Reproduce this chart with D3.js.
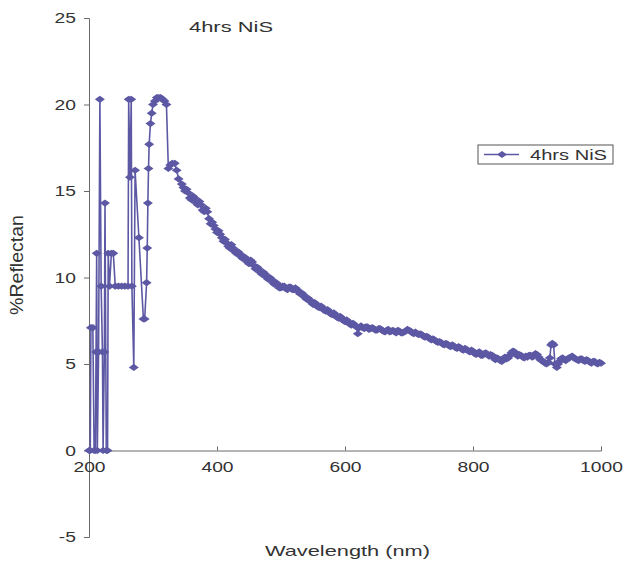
<!DOCTYPE html>
<html>
<head>
<meta charset="utf-8">
<script src="https://cdn.jsdelivr.net/npm/d3@7"></script>
<style>
  html, body { margin: 0; padding: 0; background: #ffffff; }
  svg { display: block; }
  text { font-family: "Liberation Sans", Arial, sans-serif; fill: #333333; }
</style>
</head>
<body>
<svg id="chart" width="626" height="562"></svg>
<script>
// Diffuse reflectance spectrum of the NiS film after 4 hours
const seriesName = "4hrs NiS";
const chartTitle = "4hrs NiS";
const xTitle = "Wavelength (nm)";
const yTitle = "%Reflectan";

const wavelength = [
  200, 202, 203, 206, 208, 210, 211, 212, 213, 215, 217, 219, 221, 222, 224, 225, 227, 229,
  230, 232, 235, 238, 241, 246, 251, 256, 261, 262, 264, 266, 267, 270, 272, 278, 285, 287,
  290, 291, 292, 293, 294, 296, 298, 300, 303, 306, 309, 312, 315, 318, 321, 324, 327, 330,
  334, 337, 340,
  345, 347.5, 350, 352.5, 355, 357.5, 360, 362.5, 365, 367.5,
  370, 372.5, 375, 377.5, 380, 382.5, 385, 387.5, 390, 392.5,
  395, 397.5, 400, 402.5, 405, 407.5, 410, 412.5, 415, 417.5,
  420, 422.5, 425, 427.5, 430, 432.5, 435, 437.5, 440, 442.5,
  445, 447.5, 450, 452.5, 455, 457.5, 460, 462.5, 465, 467.5,
  470, 472.5, 475, 477.5, 480, 482.5, 485, 487.5, 490, 492.5,
  495, 497.5, 500, 502.5, 505, 507.5, 510, 512.5, 515, 517.5,
  520, 522.5, 525, 527.5, 530, 532.5, 535, 537.5, 540, 542.5,
  545, 547.5, 550, 552.5, 555, 557.5, 560, 562.5, 565, 567.5,
  570, 572.5, 575, 577.5, 580, 582.5, 585, 587.5, 590, 592.5,
  595, 597.5, 600, 602.5, 605, 607.5, 610, 612.5, 615, 617.5,
  620, 622.5, 625, 627.5, 630, 632.5, 635, 637.5, 640, 642.5,
  645, 647.5, 650, 652.5, 655, 657.5, 660, 662.5, 665, 667.5,
  670, 672.5, 675, 677.5, 680, 682.5, 685, 687.5, 690, 692.5,
  695, 697.5, 700, 702.5, 705, 707.5, 710, 712.5, 715, 717.5,
  720, 722.5, 725, 727.5, 730, 732.5, 735, 737.5, 740, 742.5,
  745, 747.5, 750, 752.5, 755, 757.5, 760, 762.5, 765, 767.5,
  770, 772.5, 775, 777.5, 780, 782.5, 785, 787.5, 790, 792.5,
  795, 797.5, 800, 802.5, 805, 807.5, 810, 812.5, 815, 817.5,
  820, 822.5, 825, 827.5, 830, 832.5, 835, 837.5, 840, 842.5,
  845, 847.5, 850, 852.5, 855, 857.5, 860, 862.5, 865, 867.5,
  870, 872.5, 875, 877.5, 880, 882.5, 885, 887.5, 890, 892.5,
  895, 897.5, 900, 902.5, 905, 907.5, 910, 912.5, 915, 917.5,
  920, 922, 924, 926, 928, 931, 933, 935, 937.5,
  940, 942.5, 945, 947.5, 950, 952.5, 955, 957.5, 960, 962.5,
  965, 967.5, 970, 972.5, 975, 977.5, 980, 982.5, 985, 987.5,
  990, 992.5, 995, 997.5, 1000
];

const reflectance = [
  0, 0, 7.1, 7.1, 0, 0, 5.7, 11.4, 0, 5.7, 20.3, 9.5, 5.7, 0, 5.7, 14.3, 0, 0,
  11.4, 9.5, 11.4, 11.4, 9.5, 9.5, 9.5, 9.5, 9.5, 20.3, 15.8, 20.3, 9.5, 4.8, 16.2, 12.3, 7.6, 7.6,
  9.7, 11.7, 14.3, 16.3, 17.7, 18.9, 19.5, 20.0, 20.2, 20.4, 20.4, 20.4, 20.3, 20.2, 20.0, 16.3, 16.5, 16.6,
  16.6, 16.2, 15.7,
  15.4, 15.2, 15.0, 15.1, 14.9, 14.6, 14.5, 14.7, 14.6, 14.3,
  14.2, 14.4, 14.2, 13.9, 13.8, 14.0, 13.8, 13.4, 13.1, 13.2,
  13.0, 12.8, 12.6, 12.7, 12.5, 12.3, 12.1, 12.2, 12.0, 11.8,
  11.7, 11.9, 11.7, 11.5, 11.4, 11.5, 11.4, 11.2, 11.1, 11.2,
  11.1, 10.9, 10.8, 11.0, 10.9, 10.7, 10.5, 10.6, 10.5, 10.3,
  10.2, 10.3, 10.2, 10.0, 9.9, 10.0, 9.9, 9.7, 9.6, 9.7,
  9.6, 9.4, 9.4, 9.5, 9.5, 9.35, 9.3, 9.45, 9.45, 9.3,
  9.3, 9.4, 9.3, 9.15, 9.05, 9.1, 9.0, 8.85, 8.75, 8.8,
  8.7, 8.55, 8.45, 8.55, 8.45, 8.3, 8.25, 8.35, 8.25, 8.1,
  8.05, 8.15, 8.05, 7.9, 7.85, 7.95, 7.85, 7.7, 7.65, 7.75,
  7.65, 7.5, 7.45, 7.55, 7.45, 7.3, 7.25, 7.35, 7.25, 7.15,
  6.75, 7.1, 7.2, 7.1, 7.05, 7.15, 7.15, 7.0, 7.05, 7.1,
  7.05, 6.95, 6.95, 7.05, 7.05, 6.95, 6.9, 6.85, 6.95, 7.0,
  6.85, 6.9, 6.95, 6.85, 6.8, 6.95, 6.9, 6.8, 6.8, 6.85,
  6.9, 7.0, 6.95, 6.9, 6.8, 6.75, 6.85, 6.75, 6.7, 6.75,
  6.7, 6.6, 6.55, 6.6, 6.55, 6.45, 6.4, 6.45, 6.4, 6.3,
  6.25, 6.3, 6.25, 6.15, 6.1, 6.2, 6.15, 6.05, 6.0, 6.1,
  6.05, 5.95, 5.9, 6.0, 5.95, 5.85, 5.8, 5.9, 5.85, 5.75,
  5.7, 5.8, 5.75, 5.6, 5.55, 5.65, 5.7, 5.5, 5.5, 5.6,
  5.65, 5.55, 5.45, 5.55, 5.5, 5.35, 5.25, 5.35, 5.3, 5.2,
  5.15, 5.25, 5.4, 5.3, 5.35, 5.5, 5.65, 5.75, 5.7, 5.55,
  5.45, 5.55, 5.5, 5.4, 5.35, 5.45, 5.4, 5.5, 5.5, 5.4,
  5.45, 5.6, 5.55, 5.4, 5.25, 5.2, 5.15, 5.05, 5.0, 5.1,
  5.35, 6.1, 6.2, 6.1, 5.0, 4.8, 5.0, 5.15, 5.3,
  5.35, 5.25, 5.2, 5.3, 5.35, 5.4, 5.45, 5.35, 5.3, 5.25,
  5.2, 5.3, 5.3, 5.2, 5.15, 5.25, 5.2, 5.1, 5.05, 5.15,
  5.15, 5.05, 5.0, 5.1, 5.05
];

const xTicks = [200, 400, 600, 800, 1000];
const yTicks = [-5, 0, 5, 10, 15, 20, 25];

const points = wavelength.map((w, i) => ({ w: w, r: reflectance[i] }));

const lineColor = "#5c58a4";
const axisColor = "#6a6a6a";
const stretch = 1.33;   // horizontal stretch applied to label glyphs

const svg = d3.select("#chart");

const x = d3.scaleLinear().domain([200, 1000]).range([89, 601]);
const y = d3.scaleLinear().domain([-5, 25]).range([537, 18]);

// value axis
const yAxis = svg.append("g")
  .attr("transform", `translate(${x(200)},0)`)
  .call(d3.axisLeft(y).tickValues(yTicks).tickSizeInner(5).tickSizeOuter(5).tickFormat(d => String(d)));

// wavelength axis, drawn along zero reflectance
const xAxis = svg.append("g")
  .attr("transform", `translate(0,${y(0)})`)
  .call(d3.axisBottom(x).tickValues(xTicks).tickSizeInner(-4).tickSizeOuter(-4).tickPadding(10)
    .tickFormat(d => String(d)));

[yAxis, xAxis].forEach(g => {
  g.select(".domain").attr("stroke", axisColor).attr("stroke-width", 1);
  g.selectAll(".tick line").attr("stroke", axisColor).attr("stroke-width", 1);
  g.selectAll(".tick text")
    .attr("fill", "#333")
    .style("font-size", "14.5px")
    .style("font-family", '"Liberation Sans", Arial, sans-serif');
});

yAxis.selectAll(".tick text")
  .attr("x", null)
  .attr("text-anchor", "end")
  .attr("transform", `translate(-13,0) scale(${stretch},1)`);

xAxis.selectAll(".tick text")
  .attr("y", null)
  .attr("dy", null)
  .attr("transform", `translate(0,21) scale(${stretch},1)`);

// spectrum line
const line = d3.line().x(d => x(d.w)).y(d => y(d.r));

svg.append("path")
  .datum(points)
  .attr("d", line)
  .attr("fill", "none")
  .attr("stroke", lineColor)
  .attr("stroke-width", 1.6)
  .attr("stroke-linejoin", "round");

const diamond = "M-5,0L0,-3.6L5,0L0,3.6Z";

svg.append("g")
  .selectAll("path")
  .data(points)
  .join("path")
  .attr("d", diamond)
  .attr("transform", d => `translate(${x(d.w)},${y(d.r)})`)
  .attr("fill", lineColor);

// title
svg.append("text")
  .attr("x", 189)
  .attr("y", 32)
  .attr("textLength", 84)
  .attr("lengthAdjust", "spacingAndGlyphs")
  .style("font-size", "14.5px")
  .text(chartTitle);

// axis titles
svg.append("text")
  .attr("x", 265)
  .attr("y", 556)
  .attr("textLength", 165)
  .attr("lengthAdjust", "spacingAndGlyphs")
  .style("font-size", "15px")
  .text(xTitle);

svg.append("text")
  .attr("transform", "translate(23,265) rotate(-90) scale(1,1.3)")
  .attr("text-anchor", "middle")
  .attr("textLength", 100)
  .attr("lengthAdjust", "spacingAndGlyphs")
  .style("font-size", "14px")
  .text(yTitle);

// legend
const legend = svg.append("g").attr("transform", "translate(478,145)");
legend.append("rect")
  .attr("width", 135)
  .attr("height", 19)
  .attr("fill", "#ffffff")
  .attr("stroke", "#555")
  .attr("stroke-width", 1);
legend.append("line")
  .attr("x1", 6).attr("x2", 41)
  .attr("y1", 9.5).attr("y2", 9.5)
  .attr("stroke", lineColor)
  .attr("stroke-width", 1.6);
legend.append("path")
  .attr("d", diamond)
  .attr("transform", "translate(24,9.5)")
  .attr("fill", lineColor);
legend.append("text")
  .attr("x", 52)
  .attr("y", 14.5)
  .attr("textLength", 77)
  .attr("lengthAdjust", "spacingAndGlyphs")
  .style("font-size", "14px")
  .text(seriesName);
</script>
</body>
</html>
